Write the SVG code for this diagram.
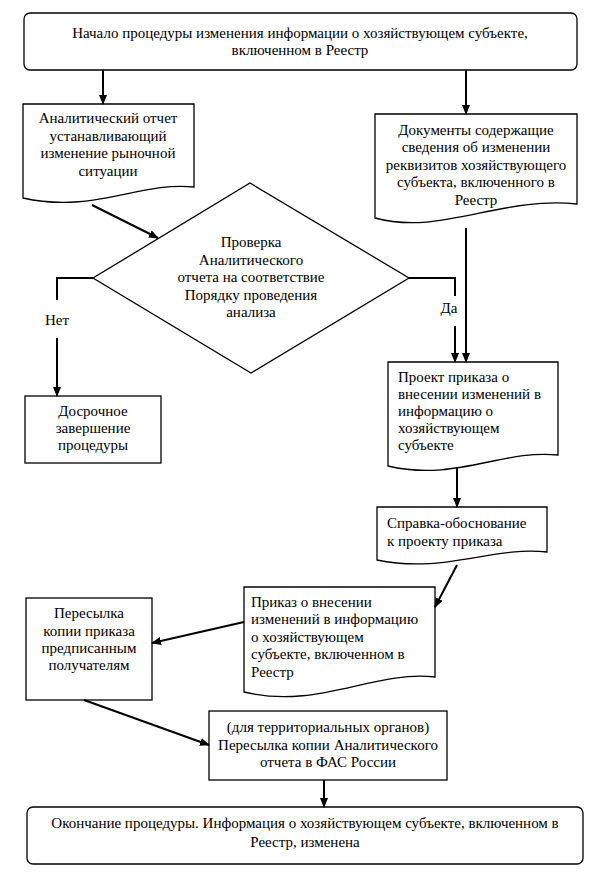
<svg xmlns="http://www.w3.org/2000/svg" width="597" height="873" viewBox="0 0 597 873">
<style>
.box{fill:#fff;stroke:#000;stroke-width:1.3}
.t{font-family:"Liberation Serif","Times New Roman",serif;font-size:15px;fill:#000}
.c{text-anchor:middle}
.con{fill:none;stroke:#000;stroke-width:2}
</style>
<defs>
<marker id="ah" markerUnits="userSpaceOnUse" markerWidth="10" markerHeight="8" refX="9" refY="4" orient="auto">
<path d="M0,0 L10,4 L0,8 Z" fill="#000"/>
</marker>
</defs>
<rect width="597" height="873" fill="#fff"/>

<g id="start">
<rect class="box" x="24" y="13" width="553" height="57" rx="6"/>
<text class="t c" x="300" y="38">Начало процедуры изменения информации о хозяйствующем субъекте,</text>
<text class="t c" x="300" y="55">включенном в Реестр</text>
</g>

<g id="analytic">
<path class="box" d="M23,104 H194 V187 C141,181 93,214 23,198 Z"/>
<text class="t c" x="108" y="123">Аналитический отчет</text>
<text class="t c" x="108" y="141">устанавливающий</text>
<text class="t c" x="108" y="158">изменение рыночной</text>
<text class="t c" x="108" y="176">ситуации</text>
</g>

<g id="docs">
<path class="box" d="M375,114 H577 V204 C500,196 440,236 375,218 Z"/>
<text class="t c" x="476" y="135">Документы содержащие</text>
<text class="t c" x="476" y="152">сведения об изменении</text>
<text class="t c" x="476" y="170">реквизитов хозяйствующего</text>
<text class="t c" x="476" y="187">субъекта, включенного в</text>
<text class="t c" x="476" y="205">Реестр</text>
</g>

<g id="check">
<path class="box" d="M250,183 L409,278 L251,373 L93,278 Z"/>
<text class="t c" x="251" y="247">Проверка</text>
<text class="t c" x="251" y="265">Аналитического</text>
<text class="t c" x="251" y="282">отчета на соответствие</text>
<text class="t c" x="251" y="300">Порядку проведения</text>
<text class="t c" x="251" y="317">анализа</text>
</g>

<g id="early-end">
<rect class="box" x="25" y="396" width="136" height="67"/>
<text class="t c" x="93" y="416">Досрочное</text>
<text class="t c" x="93" y="433">завершение</text>
<text class="t c" x="93" y="450">процедуры</text>
</g>

<g id="project">
<path class="box" d="M388,362 H558 V455 C503,449 455,482 388,466 Z"/>
<text class="t" x="398" y="382">Проект приказа о</text>
<text class="t" x="398" y="399">внесении изменений в</text>
<text class="t" x="398" y="416">информацию о</text>
<text class="t" x="398" y="433">хозяйствующем</text>
<text class="t" x="398" y="450">субъекте</text>
</g>

<g id="spravka">
<path class="box" d="M377,507 H547 V552 C492,546 444,574 377,560 Z"/>
<text class="t" x="387" y="528">Справка-обоснование</text>
<text class="t" x="387" y="546">к проекту приказа</text>
</g>

<g id="order">
<path class="box" d="M244,587 H435 V677 C373,670 318,710 244,692 Z"/>
<text class="t" x="251" y="607">Приказ о внесении</text>
<text class="t" x="251" y="624">изменений в информацию</text>
<text class="t" x="251" y="642">о хозяйствующем</text>
<text class="t" x="251" y="659">субъекте, включенном в</text>
<text class="t" x="251" y="677">Реестр</text>
</g>

<g id="send-copy">
<rect class="box" x="26" y="598" width="126" height="102"/>
<text class="t c" x="89" y="618">Пересылка</text>
<text class="t c" x="89" y="636">копии приказа</text>
<text class="t c" x="89" y="653">предписанным</text>
<text class="t c" x="89" y="670">получателям</text>
</g>

<g id="send-fas">
<rect class="box" x="209" y="711" width="238" height="69"/>
<text class="t c" x="328" y="732">(для территориальных органов)</text>
<text class="t c" x="328" y="750">Пересылка копии Аналитического</text>
<text class="t c" x="328" y="767">отчета в ФАС России</text>
</g>

<g id="finish">
<rect class="box" x="27" y="807" width="556" height="57" rx="6"/>
<text class="t c" x="305" y="828">Окончание процедуры. Информация о хозяйствующем субъекте, включенном в</text>
<text class="t c" x="305" y="847">Реестр, изменена</text>
</g>

<g id="connectors">
<line class="con" x1="103" y1="70" x2="103" y2="104" marker-end="url(#ah)"/>
<line class="con" x1="466" y1="70" x2="466" y2="114" marker-end="url(#ah)"/>
<line class="con" x1="92" y1="205" x2="158" y2="238" marker-end="url(#ah)"/>
<polyline class="con" points="93,278 57,278 57,300"/>
<line class="con" x1="57" y1="338" x2="57" y2="396" marker-end="url(#ah)"/>
<text class="t c" x="57" y="325">Нет</text>
<polyline class="con" points="409,278 455,278 455,296"/>
<line class="con" x1="455" y1="326" x2="455" y2="362" marker-end="url(#ah)"/>
<text class="t c" x="449" y="313">Да</text>
<line class="con" x1="466" y1="228" x2="466" y2="362" marker-end="url(#ah)"/>
<line class="con" x1="457" y1="468" x2="457" y2="507" marker-end="url(#ah)"/>
<line class="con" x1="457" y1="565" x2="435" y2="607" marker-end="url(#ah)"/>
<line class="con" x1="244" y1="622" x2="152" y2="643" marker-end="url(#ah)"/>
<line class="con" x1="84" y1="700" x2="209" y2="745" marker-end="url(#ah)"/>
<line class="con" x1="324" y1="780" x2="324" y2="807" marker-end="url(#ah)"/>
</g>
</svg>
